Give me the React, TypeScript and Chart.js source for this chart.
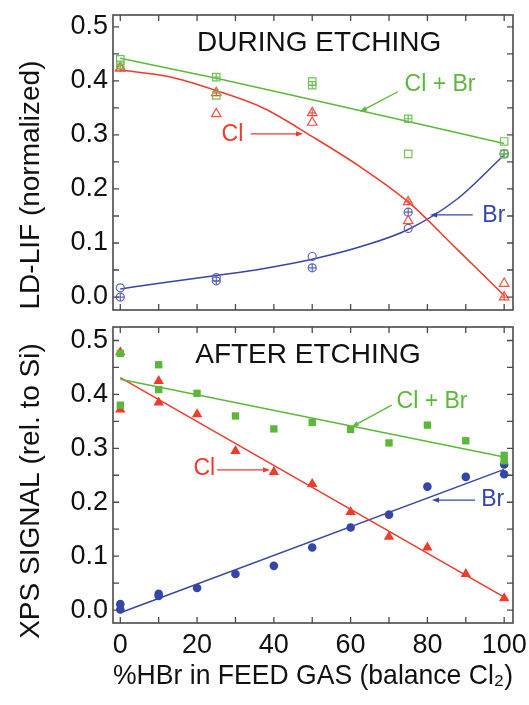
import React, { useEffect, useRef } from "react";
import { Chart, registerables } from "chart.js";

Chart.register(...registerables);

const FONT = "'Liberation Sans', Arial, Helvetica, sans-serif";

// ---------- shared axes ----------
const X_TICKS = [0, 20, 40, 60, 80, 100];
const X_MINOR_TICKS = [0, 10, 20, 30, 40, 50, 60, 70, 80, 90, 100];
const Y_TICKS = [0, 0.1, 0.2, 0.3, 0.4, 0.5];
const Y_MINOR_TICKS = [0, 0.05, 0.1, 0.15, 0.2, 0.25, 0.3, 0.35, 0.4, 0.45, 0.5];
const X_RANGE = [-1.9, 102.3];
const Y_RANGE_TOP = [-0.024, 0.522];
const Y_RANGE_BOTTOM = [-0.024, 0.525];
const X_TITLE = "%HBr in FEED GAS (balance Cl\u2082)";

// ---------- DURING ETCHING (LD-LIF) ----------
const DURING_X = [0, 25, 50, 75, 100];
const DURING_SUM_OPEN = [0.44, 0.373, 0.399, 0.265, 0.288];
const DURING_SUM_CROSS = [0.43, 0.407, 0.392, 0.33, 0.265];
const DURING_CL_OPEN = [0.425, 0.339, 0.323, 0.141, 0.025];
const DURING_CL_CROSS = [0.423, 0.378, 0.341, 0.176, 0.0];
const DURING_BR_OPEN = [0.017, 0.036, 0.075, 0.127, 0.265];
const DURING_BR_CROSS = [0.0, 0.03, 0.054, 0.157, 0.265];
const DURING_SUM_FIT_X = [0, 25, 50, 75, 100];
const DURING_SUM_FIT = [0.442, 0.405, 0.365, 0.325, 0.284];
const DURING_CURVE_X = [0, 12.5, 25, 37.5, 50, 62.5, 75, 87.5, 100];
const DURING_CL_FIT = [0.42, 0.408, 0.382, 0.349, 0.297, 0.241, 0.176, 0.09, 0.003];
const DURING_BR_FIT = [0.015, 0.028, 0.04, 0.053, 0.07, 0.093, 0.125, 0.18, 0.263];

// ---------- AFTER ETCHING (XPS) ----------
const AFTER_X = [0, 10, 20, 30, 40, 50, 60, 70, 80, 90, 100];
const AFTER_SUM = [0.476, 0.455, 0.402, 0.36, 0.336, 0.348, 0.335, 0.31, 0.343, 0.314, 0.287];
const AFTER_SUM_REPEAT_X = [0, 10, 100];
const AFTER_SUM_REPEAT = [0.38, 0.409, 0.277];
const AFTER_CL = [0.478, 0.425, 0.363, 0.295, 0.256, 0.234, 0.182, 0.136, 0.116, 0.067, 0.022];
const AFTER_CL_REPEAT_X = [0, 10];
const AFTER_CL_REPEAT = [0.372, 0.385];
const AFTER_BR = [0.001, 0.03, 0.041, 0.067, 0.082, 0.116, 0.153, 0.177, 0.229, 0.247, 0.252];
const AFTER_BR_REPEAT_X = [0, 10, 100];
const AFTER_BR_REPEAT = [0.011, 0.026, 0.27];
const AFTER_FIT_X = [0, 100];
const AFTER_SUM_FIT = [0.428, 0.284];
const AFTER_CL_FIT = [0.431, 0.024];
const AFTER_BR_FIT = [-0.005, 0.261];

// ---------- colours ----------
const GREEN = "#5cb83a";
const RED = "#ef3b2a";
const BLUE = "#3546a8";
const GREEN_LIGHT = "#70c257";
const RED_LIGHT = "#f2503f";
const BLUE_LIGHT = "#5a67ba";
const FRAME = "#4a4a4a";

const pts = (xs: number[], ys: number[]) => xs.map((x, i) => ({ x, y: ys[i] }));

type Label = { text: string; color: string; at: [number, number]; arrow: [[number, number], [number, number]] };
type Decor = {
  title: string;
  titleAt: [number, number];
  yTitle: string;
  yTitlePos: [number, number];
  labels: Label[];
};

function decorPlugin(d: Decor) {
  return {
    id: "decor",
    afterDraw(chart: any) {
      const ctx: CanvasRenderingContext2D = chart.ctx;
      const xs = chart.scales.x;
      const ys = chart.scales.y;
      const { left, right, top, bottom } = chart.chartArea;
      ctx.save();
      // frame
      ctx.strokeStyle = FRAME;
      ctx.lineWidth = 1.6;
      ctx.strokeRect(left, top, right - left, bottom - top);
      // inward ticks
      ctx.lineWidth = 1.3;
      const tl = 6;
      ctx.beginPath();
      X_MINOR_TICKS.forEach((v) => {
        const px = xs.getPixelForValue(v);
        ctx.moveTo(px, bottom);
        ctx.lineTo(px, bottom - tl);
        ctx.moveTo(px, top);
        ctx.lineTo(px, top + tl);
      });
      Y_MINOR_TICKS.forEach((v) => {
        const py = ys.getPixelForValue(v);
        ctx.moveTo(left, py);
        ctx.lineTo(left + tl, py);
        ctx.moveTo(right, py);
        ctx.lineTo(right - tl, py);
      });
      ctx.stroke();
      // panel title
      ctx.fillStyle = "#111";
      ctx.font = `28px ${FONT}`;
      ctx.textAlign = "center";
      ctx.textBaseline = "middle";
      ctx.fillText(d.title, xs.getPixelForValue(d.titleAt[0]), ys.getPixelForValue(d.titleAt[1]));
      // y title
      ctx.save();
      ctx.translate(d.yTitlePos[0], d.yTitlePos[1]);
      ctx.rotate(-Math.PI / 2);
      ctx.fillText(d.yTitle, 0, 0);
      ctx.restore();
      // series labels with arrows
      ctx.font = `23px ${FONT}`;
      d.labels.forEach((l) => {
        ctx.fillStyle = l.color;
        ctx.fillText(l.text, xs.getPixelForValue(l.at[0]), ys.getPixelForValue(l.at[1]));
        const x1 = xs.getPixelForValue(l.arrow[0][0]);
        const y1 = ys.getPixelForValue(l.arrow[0][1]);
        const x2 = xs.getPixelForValue(l.arrow[1][0]);
        const y2 = ys.getPixelForValue(l.arrow[1][1]);
        const ang = Math.atan2(y2 - y1, x2 - x1);
        const hl = 7;
        const hw = 2.6;
        ctx.strokeStyle = l.color;
        ctx.lineWidth = 1.3;
        ctx.beginPath();
        ctx.moveTo(x1, y1);
        ctx.lineTo(x2 - Math.cos(ang) * hl * 0.8, y2 - Math.sin(ang) * hl * 0.8);
        ctx.stroke();
        ctx.beginPath();
        ctx.moveTo(x2, y2);
        ctx.lineTo(x2 - Math.cos(ang) * hl - Math.sin(ang) * hw, y2 - Math.sin(ang) * hl + Math.cos(ang) * hw);
        ctx.lineTo(x2 - Math.cos(ang) * hl + Math.sin(ang) * hw, y2 - Math.sin(ang) * hl - Math.cos(ang) * hw);
        ctx.closePath();
        ctx.fill();
      });
      ctx.restore();
    },
  };
}

function yScale(range: number[]) {
  return {
    type: "linear",
    min: range[0],
    max: range[1],
    afterBuildTicks: (s: any) => {
      s.ticks = Y_TICKS.map((v) => ({ value: v }));
    },
    afterFit: (s: any) => {
      s.width = 113;
      s.paddingTop = 0;
      s.paddingBottom = 0;
    },
    ticks: {
      callback: (v: any) => Number(v).toFixed(1),
      font: { family: FONT, size: 27, lineHeight: 1.2 },
      color: "#111",
      padding: 5,
    },
    grid: { display: false, drawTicks: false },
    border: { display: false },
  };
}

const line = (data: any[], color: string, curved: boolean) => ({
  data,
  showLine: true,
  borderColor: color,
  backgroundColor: color,
  borderWidth: 1.5,
  pointRadius: 0,
  tension: curved ? 0.4 : 0,
  cubicInterpolationMode: curved ? "monotone" : "default",
});

const marker = (data: any[], style: string, radius: number, color: string, filled: boolean, bw = 1.2) => ({
  data,
  showLine: false,
  pointStyle: style,
  pointRadius: radius,
  pointBorderWidth: bw,
  pointBorderColor: color,
  pointBackgroundColor: filled ? color : "rgba(0,0,0,0)",
  borderColor: color,
  backgroundColor: filled ? color : "rgba(0,0,0,0)",
});

function topConfig(): any {
  const datasets = [
    marker(pts(DURING_X, DURING_SUM_OPEN), "rect", 5.2, GREEN_LIGHT, false),
    marker(pts(DURING_X, DURING_SUM_CROSS), "rect", 5.2, GREEN_LIGHT, false),
    marker(pts(DURING_X, DURING_SUM_CROSS), "cross", 3.6, GREEN_LIGHT, false),
    marker(pts(DURING_X, DURING_CL_OPEN), "triangle", 5.5, RED_LIGHT, false),
    marker(pts(DURING_X, DURING_CL_CROSS), "triangle", 5.5, RED_LIGHT, false),
    marker(pts(DURING_X, DURING_CL_CROSS), "cross", 3.5, RED_LIGHT, false),
    marker(pts(DURING_X, DURING_BR_OPEN), "circle", 4, BLUE_LIGHT, false),
    marker(pts(DURING_X, DURING_BR_CROSS), "circle", 4, BLUE_LIGHT, false),
    marker(pts(DURING_X, DURING_BR_CROSS), "cross", 4, BLUE_LIGHT, false),
    line(pts(DURING_SUM_FIT_X, DURING_SUM_FIT), GREEN, false),
    line(pts(DURING_CURVE_X, DURING_CL_FIT), RED, true),
    line(pts(DURING_CURVE_X, DURING_BR_FIT), BLUE, true),
  ];
  return {
    type: "scatter",
    data: { datasets },
    options: {
      responsive: false,
      animation: false,
      devicePixelRatio: 1,
      layout: { padding: { left: 0, right: 16, top: 15, bottom: 10 } },
      plugins: { legend: { display: false }, tooltip: { enabled: false } },
      scales: {
        x: { type: "linear", min: X_RANGE[0], max: X_RANGE[1], display: false },
        y: yScale(Y_RANGE_TOP),
      },
    },
    plugins: [
      decorPlugin({
        title: "DURING ETCHING",
        titleAt: [51.8, 0.47],
        yTitle: "LD-LIF (normalized)",
        yTitlePos: [31, 185],
        labels: [
          { text: "Cl + Br", color: GREEN, at: [83.3, 0.393], arrow: [[72.3, 0.38], [62.4, 0.343]] },
          { text: "Cl", color: RED, at: [29.2, 0.3], arrow: [[34.0, 0.302], [47.6, 0.302]] },
          { text: "Br", color: BLUE, at: [97.3, 0.15], arrow: [[91.8, 0.152], [80.7, 0.152]] },
        ],
      }),
    ],
  };
}

function bottomConfig(): any {
  const datasets = [
    marker(pts(AFTER_X, AFTER_SUM).concat(pts(AFTER_SUM_REPEAT_X, AFTER_SUM_REPEAT)), "rect", 5.2, GREEN, true, 0),
    marker(pts(AFTER_X, AFTER_CL).concat(pts(AFTER_CL_REPEAT_X, AFTER_CL_REPEAT)), "triangle", 6, RED, true, 0),
    marker(pts(AFTER_X, AFTER_BR).concat(pts(AFTER_BR_REPEAT_X, AFTER_BR_REPEAT)), "circle", 4.3, BLUE, true, 0),
    line(pts(AFTER_FIT_X, AFTER_SUM_FIT), GREEN, false),
    line(pts(AFTER_FIT_X, AFTER_CL_FIT), RED, false),
    line(pts(AFTER_FIT_X, AFTER_BR_FIT), BLUE, false),
  ];
  return {
    type: "scatter",
    data: { datasets },
    options: {
      responsive: false,
      animation: false,
      devicePixelRatio: 1,
      layout: { padding: { left: 0, right: 16, top: 7, bottom: 0 } },
      plugins: { legend: { display: false }, tooltip: { enabled: false } },
      scales: {
        x: {
          type: "linear",
          min: X_RANGE[0],
          max: X_RANGE[1],
          afterBuildTicks: (s: any) => {
            s.ticks = X_TICKS.map((v) => ({ value: v }));
          },
          afterFit: (s: any) => {
            s.height = 82;
            s.paddingLeft = 0;
            s.paddingRight = 0;
          },
          ticks: {
            callback: (v: any) => String(v),
            font: { family: FONT, size: 27, lineHeight: 1.2 },
            color: "#111",
            padding: 6,
            autoSkip: false,
            maxRotation: 0,
          },
          grid: { display: false, drawTicks: false },
          border: { display: false },
          title: {
            display: true,
            text: X_TITLE,
            color: "#111",
            font: { family: FONT, size: 28, lineHeight: 1.2 },
            padding: { top: 0, bottom: 12 },
          },
        },
        y: yScale(Y_RANGE_BOTTOM),
      },
    },
    plugins: [
      decorPlugin({
        title: "AFTER ETCHING",
        titleAt: [48.9, 0.473],
        yTitle: "XPS SIGNAL (rel. to Si)",
        yTitlePos: [31, 171],
        labels: [
          { text: "Cl + Br", color: GREEN, at: [81.2, 0.386], arrow: [[70.7, 0.38], [60.3, 0.34]] },
          { text: "Cl", color: RED, at: [21.9, 0.262], arrow: [[25.2, 0.26], [39.0, 0.26]] },
          { text: "Br", color: BLUE, at: [97.0, 0.204], arrow: [[92.4, 0.204], [81.2, 0.204]] },
        ],
      }),
    ],
  };
}

export default function App() {
  const topRef = useRef<HTMLCanvasElement>(null);
  const bottomRef = useRef<HTMLCanvasElement>(null);
  useEffect(() => {
    const c1 = new Chart(topRef.current as HTMLCanvasElement, topConfig());
    const c2 = new Chart(bottomRef.current as HTMLCanvasElement, bottomConfig());
    return () => {
      c1.destroy();
      c2.destroy();
    };
  }, []);
  return (
    <div style={{ position: "absolute", left: 0, top: 0, width: 529, height: 705, background: "#fff" }}>
      <canvas
        ref={topRef}
        width={529}
        height={320}
        style={{ position: "absolute", left: 0, top: 0, width: 529, height: 320 }}
      />
      <canvas
        ref={bottomRef}
        width={529}
        height={385}
        style={{ position: "absolute", left: 0, top: 320, width: 529, height: 385 }}
      />
    </div>
  );
}
